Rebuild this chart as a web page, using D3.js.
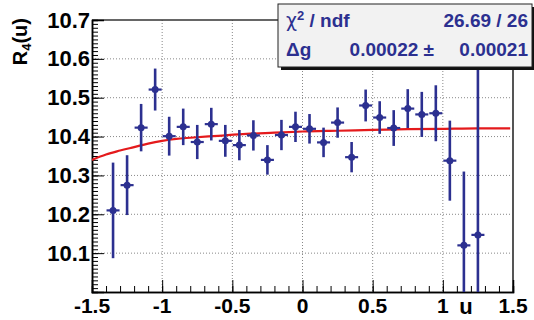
<!DOCTYPE html>
<html><head><meta charset="utf-8">
<script src="https://cdn.jsdelivr.net/npm/d3@7"></script>
<style>
html,body{margin:0;padding:0;background:#fff;}
svg{display:block;font-family:"Liberation Sans",Arial,Helvetica,sans-serif;font-weight:bold;}
</style></head>
<body>
<svg id="c" width="534" height="320"></svg>
<script>
// ---- data ----
const uCenters = [-1.35,-1.25,-1.15,-1.05,-0.95,-0.85,-0.75,-0.65,-0.55,-0.45,-0.35,-0.25,-0.15,-0.05,0.05,0.15,0.25,0.35,0.45,0.55,0.65,0.75,0.85,0.95,1.05,1.15,1.25];
const rValues  = [10.210,10.275,10.423,10.521,10.401,10.425,10.386,10.432,10.389,10.378,10.403,10.340,10.404,10.425,10.420,10.385,10.436,10.347,10.480,10.449,10.422,10.472,10.457,10.460,10.338,10.120,10.147];
const rErrors  = [0.123,0.077,0.061,0.054,0.050,0.047,0.044,0.042,0.041,0.039,0.039,0.038,0.039,0.039,0.038,0.038,0.039,0.039,0.041,0.042,0.046,0.050,0.058,0.072,0.103,0.190,0.600];
const uHalfWidth = 0.05;
const fitU = [-1.5,-1.4,-1.3,-1.2,-1.1,-1.0,-0.9,-0.8,-0.6,-0.4,-0.2,0.0,0.25,0.5,0.75,1.0,1.25,1.48];
const fitR = [10.340,10.354,10.364,10.373,10.382,10.389,10.394,10.397,10.402,10.407,10.410,10.413,10.415,10.417,10.419,10.420,10.421,10.421];
const xTickValues = [-1.5,-1,-0.5,0,0.5,1,1.5];
const xTickLabels = ["-1.5","-1","-0.5","0","0.5","1","1.5"];
const yTickValues = [10.1,10.2,10.3,10.4,10.5,10.6,10.7];
const yTickLabels = ["10.1","10.2","10.3","10.4","10.5","10.6","10.7"];
const statNames = ["χ² / ndf","Δg"];
const statValues = ["26.69 / 26","0.00021"];
const statMid = ["","0.00022 ±"];

// ---- layout ----
const L=92, R=513, T=20, B=292;
const svg = d3.select("#c");
const x = d3.scaleLinear().domain([-1.5,1.5]).range([L,R]);
const y = d3.scaleLinear().domain([10.0,10.7]).range([B,T]);
const blue = "#2c3090", red = "#e41a1c";

// grid
const grid = svg.append("g");
grid.selectAll("line.gx").data(xTickValues.slice(1,-1)).join("line")
  .attr("x1",d=>x(d)).attr("x2",d=>x(d)).attr("y1",T).attr("y2",B)
  .attr("stroke","#888").attr("stroke-width",1).attr("stroke-dasharray","1,2");
grid.selectAll("line.gy").data(yTickValues.slice(0,-1)).join("line")
  .attr("y1",d=>y(d)).attr("y2",d=>y(d)).attr("x1",L).attr("x2",R)
  .attr("stroke","#888").attr("stroke-width",1).attr("stroke-dasharray","1,2");

// frame (top/right)
svg.append("line").attr("x1",L).attr("x2",R).attr("y1",T).attr("y2",T).attr("stroke","#333").attr("stroke-width",1.5);
svg.append("line").attr("x1",R).attr("x2",R).attr("y1",T).attr("y2",B).attr("stroke","#555").attr("stroke-width",2);

// axes with ticks inside
const xMinor = d3.range(-1.5,1.5001,0.1).map(v=>+v.toFixed(2));
const yMinor = d3.range(10.0,10.7001,0.01).map(v=>+v.toFixed(3));
const xAxis = d3.axisTop(x).tickValues(xMinor).tickSize(6).tickFormat("");
const gx = svg.append("g").attr("transform",`translate(0,${B})`).call(xAxis);
const xAxisMajor = d3.axisTop(x).tickValues(xTickValues).tickSize(12).tickFormat("");
const gx2 = svg.append("g").attr("transform",`translate(0,${B})`).call(xAxisMajor);
const yAxis = d3.axisRight(y).tickValues(yMinor).tickSize(6).tickFormat("");
const gy = svg.append("g").attr("transform",`translate(${L},0)`).call(yAxis);
const yAxisMajor = d3.axisRight(y).tickValues([10.0].concat(yTickValues)).tickSize(12).tickFormat("");
const gy2 = svg.append("g").attr("transform",`translate(${L},0)`).call(yAxisMajor);
[gx,gx2,gy,gy2].forEach(g=>{g.select(".domain").attr("stroke","#000").attr("stroke-width",1.5);g.selectAll(".tick line").attr("stroke","#000").attr("stroke-width",1);});

// tick labels
svg.append("g").selectAll("text").data(xTickValues).join("text")
  .attr("x",d=>x(d)).attr("y",313).attr("text-anchor","middle")
  .attr("font-size",21).attr("fill","#000").text((d,i)=>xTickLabels[i]);
svg.append("g").selectAll("text").data(yTickValues).join("text")
  .attr("x",L-2).attr("y",d=>y(d)+7.5).attr("text-anchor","end")
  .attr("font-size",22).attr("fill","#000").text((d,i)=>yTickLabels[i]);

// axis titles
svg.append("text").attr("x",466).attr("y",314).attr("text-anchor","middle").attr("font-size",22).attr("fill","#000").text("u");
const yt = svg.append("text").attr("transform","translate(27,18) rotate(-90)").attr("text-anchor","end").attr("font-size",20).attr("fill","#000");
yt.append("tspan").text("R");
yt.append("tspan").attr("font-size",13).attr("dy",4).text("4");
yt.append("tspan").attr("dy",-4).text("(u)");

// clip
svg.append("clipPath").attr("id","pc").append("rect").attr("x",L).attr("y",T).attr("width",R-L).attr("height",B-T);
const plot = svg.append("g").attr("clip-path","url(#pc)");

// fit curve
plot.append("path").datum(fitU.map((u,i)=>[u,fitR[i]]))
  .attr("d",d3.line().x(d=>x(d[0])).y(d=>y(d[1])).curve(d3.curveMonotoneX))
  .attr("fill","none").attr("stroke",red).attr("stroke-width",2.2);

// data points
const pts = plot.append("g");
const data = uCenters.map((u,i)=>({u,v:rValues[i],e:rErrors[i]}));
pts.selectAll("line.ev").data(data).join("line")
  .attr("x1",d=>x(d.u)).attr("x2",d=>x(d.u)).attr("y1",d=>y(d.v-d.e)).attr("y2",d=>y(d.v+d.e))
  .attr("stroke",blue).attr("stroke-width",2.6);
pts.selectAll("line.eh").data(data).join("line")
  .attr("x1",d=>x(d.u-uHalfWidth)+0.5).attr("x2",d=>x(d.u+uHalfWidth)-0.5).attr("y1",d=>y(d.v)).attr("y2",d=>y(d.v))
  .attr("stroke",blue).attr("stroke-width",2.2);
pts.selectAll("circle").data(data).join("circle")
  .attr("cx",d=>x(d.u)).attr("cy",d=>y(d.v)).attr("r",3.5).attr("fill",blue);

// stat box
const bx=278, by=4, bw=254, bh=63;
svg.append("rect").attr("x",bx+3).attr("y",by+3).attr("width",bw).attr("height",bh).attr("fill","#111");
svg.append("rect").attr("x",bx).attr("y",by).attr("width",bw).attr("height",bh).attr("fill","#f2f2f2").attr("stroke","#222").attr("stroke-width",1);
const st = svg.append("g").attr("fill","#2c3090").attr("font-size",19);
const rowY = [27,56];
statNames.forEach((n,i)=>{
  if(i===0){
    const t = st.append("text").attr("x",286).attr("y",rowY[i]);
    t.append("tspan").attr("font-family","DejaVu Sans").attr("font-weight","normal").text("χ");
    t.append("tspan").attr("font-size",13).attr("dy",-7).text("2");
    t.append("tspan").attr("dy",7).text(" / ndf");
  } else {
    st.append("text").attr("x",286).attr("y",rowY[i]).text(n);
  }
  st.append("text").attr("x",528).attr("y",rowY[i]).attr("text-anchor","end").text(statValues[i]);
  if(statMid[i]) st.append("text").attr("x",434).attr("y",rowY[i]).attr("text-anchor","end").text(statMid[i]);
});
</script>
</body></html>
